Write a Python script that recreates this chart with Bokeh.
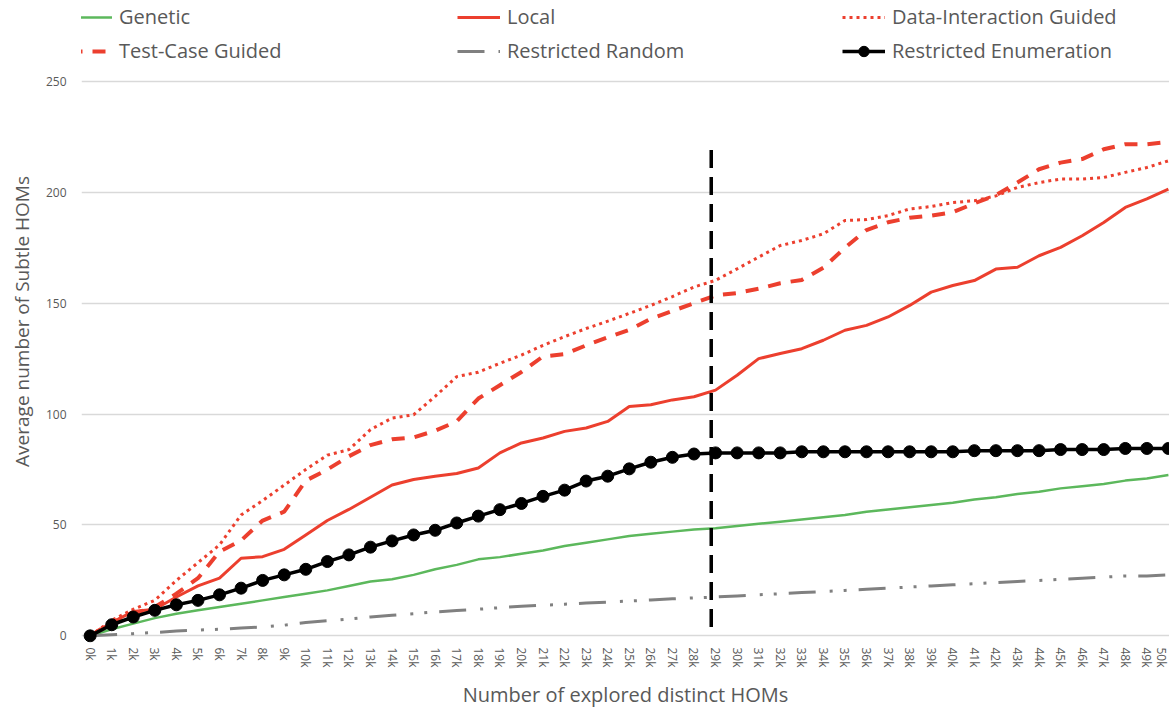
import math
from bokeh.plotting import figure
from bokeh.models import Legend, LegendItem, FixedTicker, Range1d
from bokeh.embed import file_html
from bokeh.resources import INLINE

# ---------------- data ----------------
x_k = [0, 1, 2, 3, 4, 5, 6, 7, 8, 9, 10, 11, 12, 13, 14, 15, 16, 17, 18, 19, 20,
       21, 22, 23, 24, 25, 26, 27, 28, 29, 30, 31, 32, 33, 34, 35, 36, 37, 38, 39, 40,
       41, 42, 43, 44, 45, 46, 47, 48, 49, 50]
tick_labels = ["0k", "1k", "2k", "3k", "4k", "5k", "6k", "7k", "8k", "9k", "10k",
               "11k", "12k", "13k", "14k", "15k", "16k", "17k", "18k", "19k", "20k",
               "21k", "22k", "23k", "24k", "25k", "26k", "27k", "28k", "29k", "30k",
               "31k", "32k", "33k", "34k", "35k", "36k", "37k", "38k", "39k", "40k",
               "41k", "42k", "43k", "44k", "45k", "46k", "47k", "48k", "49k", "50k"]
y_ticks = [0, 50, 100, 150, 200, 250]

genetic = [0, 3, 5.5, 8, 10, 11.5, 13, 14.5, 16, 17.5, 19, 20.5, 22.5, 24.5, 25.5, 27.5,
           30, 32, 34.5, 35.5, 37, 38.5, 40.5, 42, 43.5, 45, 46, 47, 48, 48.5, 49.5,
           50.5, 51.5, 52.5, 53.5, 54.5, 56, 57, 58, 59, 60, 61.5, 62.5, 64, 65, 66.5,
           67.5, 68.5, 70, 71, 72.5]
local = [0, 6, 11, 12, 17.5, 22.5, 26, 35, 35.7, 39, 45.5, 52, 57, 62.5, 68, 70.5, 72,
         73.2, 75.7, 82.5, 87, 89.2, 92.2, 93.7, 96.7, 103.4, 104.2, 106.4, 107.8, 110.8,
         117.5, 125, 127.3, 129.5, 133.3, 137.8, 140, 143.8, 149, 155, 158, 160.2, 165.4,
         166.2, 171.4, 175.2, 180.4, 186.4, 193.2, 197, 201.4]
data_interaction = [0, 7, 12, 16, 25, 33, 41, 54.5, 61, 68, 75, 81.5, 84, 93, 98.2, 99.7,
                    108, 116.9, 118.9, 122.9, 126.6, 131, 134.9, 138.6, 141.9, 145.4, 149,
                    153, 157.3, 160.3, 165.5, 170.8, 176, 178.3, 181.3, 187.3, 187.7, 189.5,
                    192.5, 193.6, 195.4, 196.2, 198.4, 202.2, 204.4, 206, 206, 206.7, 209,
                    211.2, 214.2]
test_case = [0, 6, 10, 13, 19, 26, 38, 43, 52, 56, 70, 75, 81, 86, 88.6, 89.5, 92.5, 96.7,
             107, 113, 119, 126, 127, 131, 134.6, 138, 143, 146.5, 150, 153.5, 154.6, 156.5,
             159, 160.5, 166, 175, 183, 186.5, 188.5, 189.5, 191, 195, 198.7, 204.4, 210.4,
             213.4, 215, 219.4, 221.7, 221.7, 222.7]
restricted_random = [0, 0.5, 1, 1.5, 2.2, 2.6, 3, 3.5, 4, 4.8, 6, 6.8, 7.6, 8.5, 9.3, 10,
                     10.8, 11.4, 12, 12.7, 13.3, 13.8, 14.3, 14.8, 15.2, 15.7, 16.2, 16.7,
                     17.1, 17.5, 18, 18.5, 19, 19.5, 20, 20.5, 21, 21.5, 22, 22.5, 23, 23.5,
                     24, 24.5, 25, 25.5, 26, 26.5, 27, 27, 27.5]
restricted_enum = [0, 5, 8.5, 11.5, 14, 16, 18.5, 21.5, 25, 27.5, 30, 33.5, 36.5, 40, 42.8,
                   45.5, 47.6, 50.9, 54, 56.9, 59.7, 62.9, 65.7, 69.8, 72, 75.3, 78.3, 80.5,
                   82, 82.5, 82.5, 82.5, 82.5, 83, 83, 83, 83, 83, 83, 83, 83, 83.5, 83.5,
                   83.5, 83.5, 84, 84, 84, 84.5, 84.5, 84.5]

# vertical marker (dashed black line)
marker_x = [28.8, 28.8]
marker_y = [4, 223]

# ---------------- style ----------------
FONT = "Open Sans"
TXT = "#595959"
GREEN = "#5cb85c"
RED = "#ec3f2e"
GRAY = "#808080"

# frame extends above 250 so the legend (drawn inside the frame) is not clipped
p = figure(width=1169, height=710, output_backend="svg", toolbar_location=None,
           x_range=Range1d(-0.4, 50.05), y_range=Range1d(-3, 286.5),
           min_border_left=81, min_border_right=0, min_border_top=0,
           min_border_bottom=67)
p.outline_line_color = None
p.background_fill_color = "white"

# axes
p.xaxis.ticker = FixedTicker(ticks=x_k)
p.xaxis.major_label_overrides = {x: lab for x, lab in zip(x_k, tick_labels)}
p.xaxis.major_label_orientation = -math.pi / 2
p.xaxis.axis_line_color = None
p.xaxis.major_tick_line_color = None
p.xaxis.minor_tick_line_color = None
p.xaxis.major_tick_out = 0
p.xaxis.minor_tick_out = 0
p.xaxis.major_label_standoff = 5
p.xaxis.major_label_text_font = FONT
p.xaxis.major_label_text_font_size = "12px"
p.xaxis.major_label_text_color = TXT
p.xaxis.axis_label = "Number of explored distinct HOMs"
p.xaxis.axis_label_text_font = FONT
p.xaxis.axis_label_text_font_size = "20px"
p.xaxis.axis_label_text_font_style = "normal"
p.xaxis.axis_label_text_color = TXT
p.xaxis.axis_label_standoff = 10

p.yaxis.ticker = FixedTicker(ticks=y_ticks)
p.yaxis.axis_line_color = None
p.yaxis.major_tick_line_color = None
p.yaxis.minor_tick_line_color = None
p.yaxis.major_tick_out = 0
p.yaxis.minor_tick_out = 0
p.yaxis.major_label_standoff = 15
p.yaxis.major_label_text_font = FONT
p.yaxis.major_label_text_font_size = "12px"
p.yaxis.major_label_text_color = TXT
p.yaxis.axis_label = "Average number of Subtle HOMs"
p.yaxis.axis_label_text_font = FONT
p.yaxis.axis_label_text_font_size = "19px"
p.yaxis.axis_label_text_font_style = "normal"
p.yaxis.axis_label_text_color = TXT
p.yaxis.axis_label_standoff = 8

p.xgrid.grid_line_color = None
p.ygrid.grid_line_color = "#d9d9d9"
p.ygrid.grid_line_width = 1.5

# series
r_gen = p.line(x_k, genetic, line_color=GREEN, line_width=2.5)
r_loc = p.line(x_k, local, line_color=RED, line_width=3)
r_dig = p.line(x_k, data_interaction, line_color=RED, line_width=3, line_dash="3 4")
r_tcg = p.line(x_k, test_case, line_color=RED, line_width=4, line_dash="13 10")
r_rr = p.line(x_k, restricted_random, line_color=GRAY, line_width=3,
              line_dash="27 14 3 11 3 12")
r_re_l = p.line(x_k, restricted_enum, line_color="black", line_width=3.5)
r_re_m = p.scatter(x_k, restricted_enum, size=12, fill_color="black", line_color="black")
p.line(marker_x, marker_y, line_color="black", line_width=3.5, line_dash="18 9")

# legends (three columns)
def make_legend(items, x, y):
    lg = Legend(items=items, location=(x, y), orientation="vertical",
                background_fill_alpha=0, border_line_alpha=0, padding=0, margin=0,
                spacing=7, glyph_width=43, glyph_height=26, label_standoff=7,
                label_text_font=FONT, label_text_font_size="20px",
                label_text_color=TXT, label_height=26)
    p.add_layout(lg)

make_legend([LegendItem(label="Genetic", renderers=[r_gen]),
             LegendItem(label="Test-Case Guided", renderers=[r_tcg])], -12, 578)
make_legend([LegendItem(label="Local", renderers=[r_loc]),
             LegendItem(label="Restricted Random", renderers=[r_rr])], 376, 578)
make_legend([LegendItem(label="Data-Interaction Guided", renderers=[r_dig]),
             LegendItem(label="Restricted Enumeration", renderers=[r_re_l, r_re_m])], 761, 578)

open("out.html", "w").write(file_html(p, INLINE))
